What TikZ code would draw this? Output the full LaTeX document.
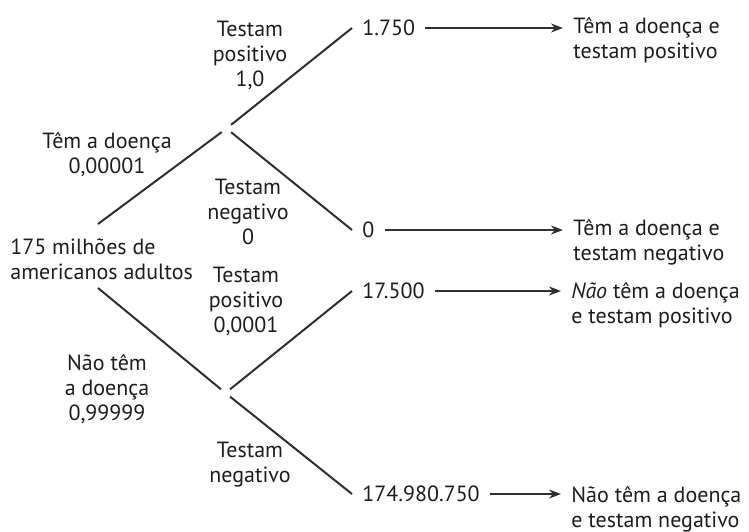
\documentclass[tikz,border=0pt]{standalone}
\usepackage{fontspec}
\setmainfont{PT Sans}
\usetikzlibrary{arrows.meta}

\begin{document}
\begin{tikzpicture}[x=0.5pt,y=-0.5pt,
  every node/.style={font=\fontsize{11}{12.5}\selectfont,text=ctext},
  rootbox/.style={anchor=west,align=left,inner sep=0pt},
  lbl/.style={align=center,inner sep=0pt},
  leaf/.style={anchor=west,inner xsep=5pt,inner ysep=0pt},
  outc/.style={anchor=west,align=left,inner xsep=5pt,inner ysep=0pt},
  junc/.style={circle,minimum size=5.5pt,inner sep=0pt},
  branch/.style={draw=cline,line width=1pt},
  tip/.style={draw=cline,line width=0.9pt,-{Stealth[length=6pt,width=4.5pt]}}]
\definecolor{ctext}{rgb}{0.13,0.11,0.11}
\definecolor{cline}{rgb}{0.2,0.18,0.18}
\useasboundingbox (0,0) rectangle (749,531);
%
\node[rootbox] (root) at (10,259) {175 milhões de\\americanos adultos};
\coordinate (cA) at (98,224);
\coordinate (cB) at (98,288);
\node[junc] (jA) at (226.5,128.5) {};
\node[junc] (jB) at (225.5,393) {};
%
\node[leaf] (n1) at (352,28) {1.750};
\node[leaf] (n2) at (352,230) {0};
\node[leaf] (n3) at (352,291) {17.500};
\node[leaf] (n4) at (352,494) {174.980.750};
%
\node[outc] (o1) at (563,40) {Têm a doença e\\testam positivo};
\node[outc] (o2) at (563,242) {Têm a doença e\\testam negativo};
\node[outc] (o3) at (561,305) {\emph{Não} têm a doença\\e testam positivo};
\node[outc] (o4) at (561,509) {Não têm a doença\\e testam negativo};
%
\node[lbl] (lA) at (107,155) {Têm a doença\\0,00001};
\node[lbl] (lA1) at (250,55) {Testam\\positivo\\1,0};
\node[lbl] (lA2) at (248,212) {Testam\\negativo\\0};
\node[lbl] (lB) at (107,389) {Não têm\\a doença\\0,99999};
\node[lbl] (lB1) at (246,301) {Testam\\positivo\\0,0001};
\node[lbl] (lB2) at (250,465) {Testam\\negativo};
%
\draw[branch] (cA) -- (jA);
\draw[branch] (cB) -- (jB);
\draw[branch] (jA) -- (n1.west);
\draw[branch] (jA) -- (n2.west);
\draw[branch] (jB) -- (n3.west);
\draw[branch] (jB) -- (n4.west);
%
\draw[tip] (n1.east) -- (n1.east -| o1.west);
\draw[tip] (n2.east) -- (n2.east -| o2.west);
\draw[tip] (n3.east) -- (n3.east -| o3.west);
\draw[tip] (n4.east) -- (n4.east -| o4.west);
%
\end{tikzpicture}
\end{document}
